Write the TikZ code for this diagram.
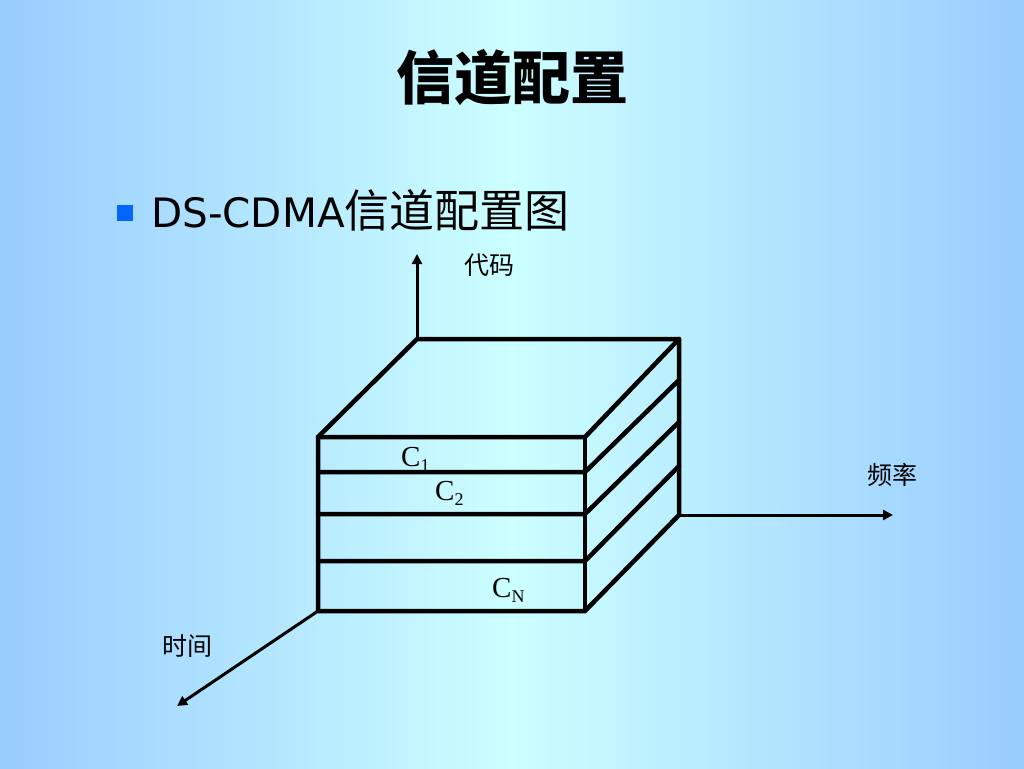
\documentclass[tikz,border=0pt]{standalone}
\usepackage{fontspec}
\setmainfont{Liberation Serif}
\newfontfamily\cjk{Noto Sans CJK SC}
\newfontfamily\latinsans{DejaVu Sans}
\usetikzlibrary{arrows.meta}
\definecolor{bgedge}{RGB}{153,204,255}
\definecolor{bgmid}{RGB}{204,255,255}
\definecolor{bulletblue}{RGB}{0,102,255}
\newcommand{\csub}[2]{#1\raisebox{-0.45ex}{\fontsize{18}{18}\selectfont #2}}
\tikzset{
  boxline/.style={line width=4.5pt, line cap=round, line join=round},
  axisline/.style={line width=3pt, -{Triangle[length=10pt,width=10pt]}},
  axislabel/.style={font=\cjk\fontsize{25}{25}\selectfont, inner sep=0pt, anchor=base west},
  clabel/.style={font=\fontsize{29}{29}\selectfont, inner sep=0pt, anchor=base west}
}
\begin{document}
\begin{tikzpicture}[x=1pt,y=-1pt]
\useasboundingbox (0,0) rectangle (1024,768);
\shade[left color=bgedge, right color=bgedge, middle color=bgmid] (0,0) rectangle (1024,768);
% title
\node[font=\cjk\bfseries\fontsize{58}{58}\selectfont, inner sep=0pt, anchor=base] (title) at (512,99) {信道配置};
% bullet
\node[fill=bulletblue, minimum size=16pt, inner sep=0pt] (bullet) at (125,213) {};
\node[inner sep=0pt, anchor=base west] (sub) at (151,227) {{\latinsans\fontsize{40.5}{40}\selectfont DS-CDMA}{\cjk\fontsize{45}{45}\selectfont 信道配置图}};
% box coordinates
\coordinate (fl1) at (318,437);
\coordinate (fl2) at (318,472);
\coordinate (fl3) at (318,514);
\coordinate (fl4) at (318,561);
\coordinate (fl5) at (318,611);
\coordinate (fr1) at (585,437);
\coordinate (fr2) at (585,472);
\coordinate (fr3) at (585,514);
\coordinate (fr4) at (585,561);
\coordinate (fr5) at (585,611);
\coordinate (br1) at (679,339);
\coordinate (br2) at (679,380);
\coordinate (br3) at (679,422);
\coordinate (br4) at (679,466);
\coordinate (br5) at (679,515);
\coordinate (bl1) at (417,339);
% axes
\coordinate (codeend) at (417,254);
\coordinate (freqend) at (893,515);
\coordinate (timeend) at (177,706);
\draw[axisline] (bl1) -- (codeend);
\draw[axisline] (br5) -- (freqend);
\draw[axisline] (fl5) -- (timeend);
% box
\draw[boxline] (fl5) -- (fl1) -- (bl1) -- (br1) -- (br5);
\draw[boxline] (fr1) -- (fr5);
\foreach \i in {1,...,5}{
  \draw[boxline] (fl\i) -- (fr\i) -- (br\i);
}
% labels
\node[axislabel] (code) at (464,274) {代码};
\node[axislabel] (freq) at (867,484) {频率};
\node[axislabel] (time) at (162,655) {时间};
\node[clabel] (c1) at (401,466) {\csub{C}{1}};
\node[clabel] (c2) at (435,500) {\csub{C}{2}};
\node[clabel] (cn) at (492,597) {\csub{C}{N}};
\end{tikzpicture}
\end{document}
